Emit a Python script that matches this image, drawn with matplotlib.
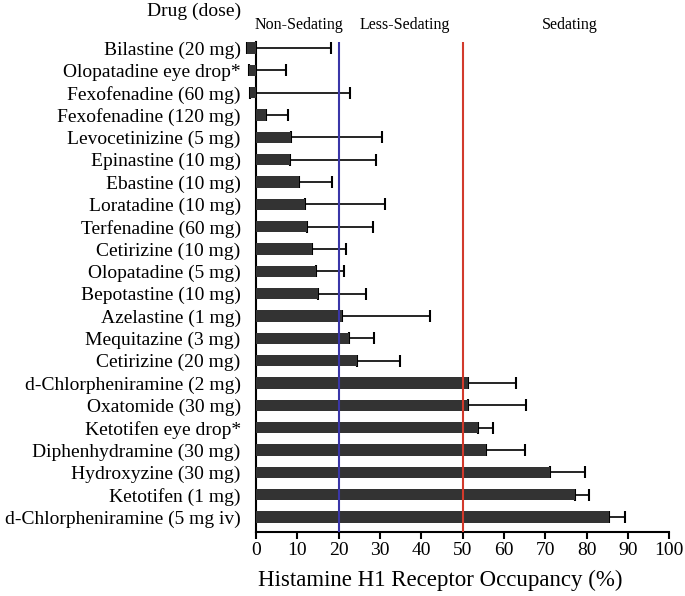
import matplotlib
matplotlib.use("Agg")
import matplotlib.pyplot as plt
import numpy as np

plt.rcParams['font.family'] = ['Liberation Serif', 'DejaVu Serif']

drugs = [
    "Bilastine (20 mg)", "Olopatadine eye drop*", "Fexofenadine (60 mg)",
    "Fexofenadine (120 mg)", "Levocetinizine (5 mg)", "Epinastine (10 mg)",
    "Ebastine (10 mg)", "Loratadine (10 mg)", "Terfenadine (60 mg)",
    "Cetirizine (10 mg)", "Olopatadine (5 mg)", "Bepotastine (10 mg)",
    "Azelastine (1 mg)", "Mequitazine (3 mg)", "Cetirizine (20 mg)",
    "d-Chlorpheniramine (2 mg)", "Oxatomide (30 mg)", "Ketotifen eye drop*",
    "Diphenhydramine (30 mg)", "Hydroxyzine (30 mg)", "Ketotifen (1 mg)",
    "d-Chlorpheniramine (5 mg iv)",
]
occupancy = [-2.1, -1.8, -1.5, 2.3, 8.5, 8.3, 10.3, 11.9, 12.3, 13.6, 14.4, 14.9,
             20.9, 22.4, 24.5, 51.2, 51.2, 53.8, 55.6, 71.2, 77.1, 85.3]
sd_upper = [20.2, 9.0, 24.3, 5.5, 22.1, 20.8, 8.0, 19.4, 15.9, 8.2, 6.9, 11.6,
            21.3, 6.2, 10.3, 11.8, 14.1, 3.6, 9.4, 8.5, 3.5, 4.0]
thresholds = [20, 50]
zone_labels = ["Non-Sedating", "Less-Sedating", "Sedating"]
zone_centers = [10.5, 36, 76]
xticks = list(range(0, 101, 10))

W, H = 685, 596
fig = plt.figure(figsize=(W / 100, H / 100), dpi=100)
x0_px = 256.0
x100_px = 669.3
ppu = (x100_px - x0_px) / 100.0
xmin = -2.6
left_px = x0_px + xmin * ppu
ax = fig.add_axes([left_px / W, 1 - 532 / H, (x100_px - left_px) / W, (532 - 42) / H])

y = np.arange(len(drugs))
ax.errorbar(occupancy, y, xerr=[np.zeros(len(sd_upper)), sd_upper], fmt='none',
            ecolor='black', elinewidth=1.2, capsize=4.5, capthick=1.5, zorder=2)
ax.barh(y, occupancy, height=0.5, color='#333333', zorder=3)

ax.axvline(thresholds[0], color='#3a36a8', lw=1.5, zorder=4)
ax.axvline(thresholds[1], color='#d23a2c', lw=1.5, zorder=4)

ax.set_xlim(xmin, 100)
ax.set_ylim(len(drugs) - 1 + 0.67, -0.27)
ax.spines['top'].set_visible(False)
ax.spines['right'].set_visible(False)
ax.spines['left'].set_position(('data', 0))
ax.spines['bottom'].set_bounds(0, 100)
ax.spines['left'].set_linewidth(1.5)
ax.spines['bottom'].set_linewidth(1.5)

ax.set_yticks(y)
ax.set_yticklabels(drugs, fontsize=14)
ax.tick_params(axis='y', length=0, pad=11)
ax.set_xticks(xticks)
ax.set_xticklabels([str(t) for t in xticks], fontsize=14)
ax.tick_params(axis='x', length=5, width=1.5, pad=2)
ax.set_xlabel("Histamine H1 Receptor Occupancy (%)", fontsize=16.5)
ax.xaxis.set_label_coords((440 - left_px) / (x100_px - left_px), -(580 - 532) / (532 - 42))
ax.xaxis.label.set_va('center')

for lab, c in zip(zone_labels, zone_centers):
    ax.text(c, 1 + 17 / (532 - 42), lab, transform=ax.get_xaxis_transform(),
            ha='center', va='center', fontsize=11.5)

fig.text(241 / W, 1 - 11 / H, "Drug (dose)", ha='right', va='center', fontsize=14)

fig.savefig("out.png", dpi=100)
